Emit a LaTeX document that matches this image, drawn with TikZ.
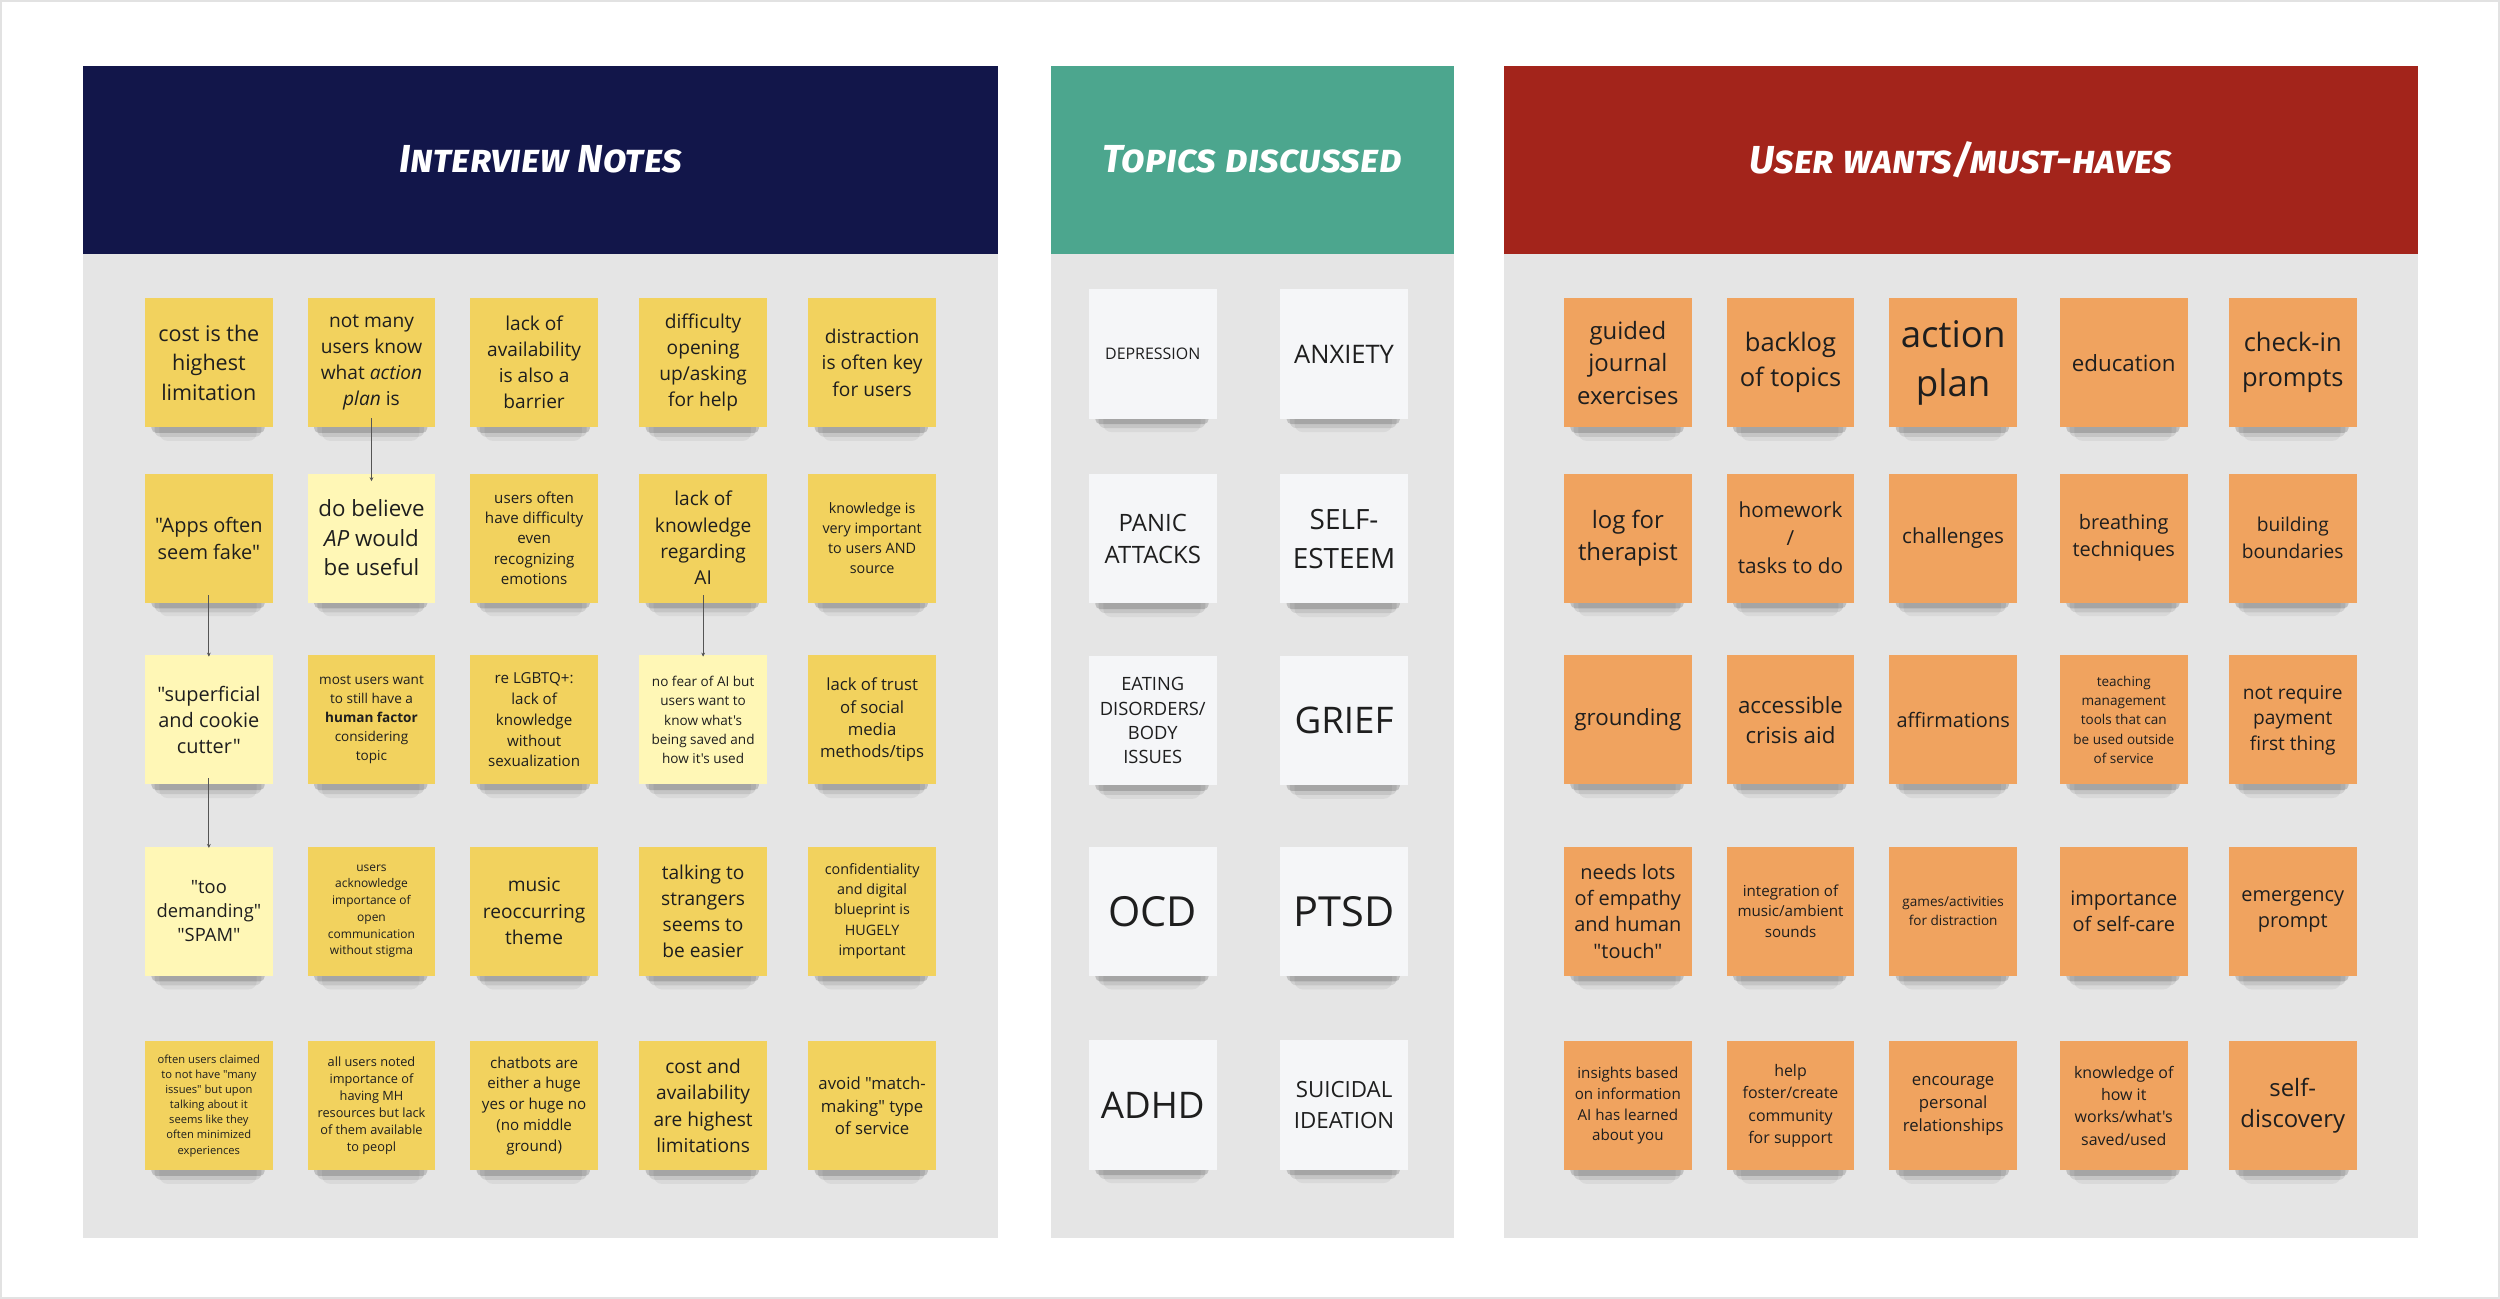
\documentclass[tikz,border=0pt]{standalone}
\usepackage{fontspec}
\setmainfont{Open Sans}[Ligatures=TeXOff]
\newfontfamily\hdrfont{Fira Sans}[Letters=SmallCaps]
\usetikzlibrary{arrows.meta}
\definecolor{navy}{HTML}{12164A}
\definecolor{teal}{HTML}{4CA68E}
\definecolor{brick}{HTML}{A3241B}
\definecolor{panelgray}{HTML}{E5E5E5}
\definecolor{frame}{HTML}{E2E2E2}
\definecolor{noteY}{HTML}{F2D25E}
\definecolor{noteLY}{HTML}{FFF7B6}
\definecolor{noteO}{HTML}{F0A35F}
\definecolor{noteW}{HTML}{F5F6F8}
\definecolor{notetext}{HTML}{1E1E1E}
\definecolor{linkgray}{HTML}{555555}
\newcommand\ft[2]{\fontsize{#1}{#2}\selectfont}
\tikzset{
  sticky/.style={minimum width=80pt, minimum height=81pt, inner sep=1pt, align=center, text=notetext},
  yel/.style={sticky, fill=noteY},
  lyel/.style={sticky, fill=noteLY},
  ora/.style={sticky, fill=noteO},
  wht/.style={sticky, fill=noteW},
  shA/.style={fill=black, opacity=.16, rounded corners=3pt},
  shB/.style={fill=black, opacity=.09, rounded corners=4pt},
  shC/.style={fill=black, opacity=.05, rounded corners=5pt},
  link/.style={draw=linkgray, line width=.6pt, -{Stealth[length=2.5pt,width=2.4pt]}},
  header/.style={text=white, font=\hdrfont\bfseries\itshape\fontsize{24.5}{28}\selectfont}
}
% sticky note with its soft shadow: style, name, x, y, font size, line skip, text
\newcommand\sticky[7]{%
  \begin{scope}[shift={(#3,#4)}]
    \fill[shC] (-31,30) rectangle (30,49);
    \fill[shB] (-34,30) rectangle (33,46.5);
    \fill[shA] (-36,30) rectangle (35,44);
  \end{scope}
  \node[#1, font=\ft{#5}{#6}] (#2) at (#3,#4) {#7};}
\begin{document}
\begin{tikzpicture}[x=1pt,y=-1pt]
\useasboundingbox (0,0) rectangle (1568,814.7);
\fill[white] (0,0) rectangle (1568,814.7);
\draw[frame, line width=1.2pt] (0.8,0.8) rectangle (1567.2,813.9);
% panels
\fill[panelgray] (52,159) rectangle (626,776.5);
\fill[navy] (52,41.4) rectangle (626,159);
\fill[panelgray] (659,159) rectangle (912,776.5);
\fill[teal] (659,41.4) rectangle (912,159);
\fill[panelgray] (943,159) rectangle (1516.5,776.5);
\fill[brick] (943,41.4) rectangle (1516.5,159);
\node[header] (h1) at (339,100) {Interview Notes};
\node[header] (h2) at (785.5,100) {Topics discussed};
\node[header] (h3) at (1230,100) {User wants/must-haves};
% interview notes
\sticky{yel}{i11}{131}{227.5}{13.5}{18.5}{cost is the\\highest\\limitation}
\sticky{yel}{i12}{233}{227.5}{12}{16.3}{not many\\users know\\what \textit{action}\\\textit{plan} is}
\sticky{yel}{i13}{335}{227.5}{12}{16.3}{lack of\\availability\\is also a\\barrier}
\sticky{yel}{i14}{441}{227.5}{12}{16.3}{difficulty\\opening\\up/asking\\for help}
\sticky{yel}{i15}{547}{227.5}{12}{16.5}{distraction\\is often key\\for users}
\sticky{yel}{i21}{131}{337.5}{12.5}{17}{"Apps often\\seem fake"}
\sticky{lyel}{i22}{233}{337.5}{14}{18.5}{do believe\\\textit{AP} would\\be useful}
\sticky{yel}{i23}{335}{337.5}{9.5}{12.8}{users often\\have difficulty\\even\\recognizing\\emotions}
\sticky{yel}{i24}{441}{337.5}{12}{16.5}{lack of\\knowledge\\regarding\\AI}
\sticky{yel}{i25}{547}{337.5}{9}{12.5}{knowledge is\\very important\\to users AND\\source}
\sticky{lyel}{i31}{131}{451.5}{12.5}{16.5}{"superficial\\and cookie\\cutter"}
\sticky{yel}{i32}{233}{451.5}{8.5}{12}{most users want\\to still have a\\\textbf{human factor}\\considering\\topic}
\sticky{yel}{i33}{335}{451.5}{9.5}{13}{re LGBTQ+:\\lack of\\knowledge\\without\\sexualization}
\sticky{lyel}{i34}{441}{451.5}{8.5}{12}{no fear of AI but\\users want to\\know what's\\being saved and\\how it's used}
\sticky{yel}{i35}{547}{451.5}{10.5}{14}{lack of trust\\of social\\media\\methods/tips}
\sticky{lyel}{i41}{131}{571.5}{11.5}{15}{"too\\demanding"\\"SPAM"}
\sticky{yel}{i42}{233}{571.5}{7.5}{10.5}{users\\acknowledge\\importance of\\open\\communication\\without stigma}
\sticky{yel}{i43}{335}{571.5}{12}{16.5}{music\\reoccurring\\theme}
\sticky{yel}{i44}{441}{571.5}{12}{16.3}{talking to\\strangers\\seems to\\be easier}
\sticky{yel}{i45}{547}{571.5}{9}{12.7}{confidentiality\\and digital\\blueprint is\\HUGELY\\important}
\sticky{yel}{i51}{131}{693.5}{7}{9.5}{often users claimed\\to not have "many\\issues" but upon\\talking about it\\seems like they\\often minimized\\experiences}
\sticky{yel}{i52}{233}{693.5}{8}{10.7}{all users noted\\importance of\\having MH\\resources but lack\\of them available\\to peopl}
\sticky{yel}{i53}{335}{693.5}{9.5}{13}{chatbots are\\either a huge\\yes or huge no\\(no middle\\ground)}
\sticky{yel}{i54}{441}{693.5}{12}{16.5}{cost and\\availability\\are highest\\limitations}
\sticky{yel}{i55}{547}{693.5}{10.5}{14}{avoid "match-\\making" type\\of service}
% topics
\sticky{wht}{t11}{723}{222}{10}{13}{DEPRESSION}
\sticky{wht}{t12}{843}{222}{16}{20}{ANXIETY}
\sticky{wht}{t21}{723}{338}{15}{20}{PANIC\\ATTACKS}
\sticky{wht}{t22}{843}{338}{17.5}{24}{SELF-\\ESTEEM}
\sticky{wht}{t31}{723}{452}{11.5}{15.3}{EATING\\DISORDERS/\\BODY\\ISSUES}
\sticky{wht}{t32}{843}{452}{23}{28}{GRIEF}
\sticky{wht}{t41}{723}{571.5}{26}{30}{OCD}
\sticky{wht}{t42}{843}{571.5}{26}{30}{PTSD}
\sticky{wht}{t51}{723}{693}{23}{28}{ADHD}
\sticky{wht}{t52}{843}{693}{14}{19}{SUICIDAL\\IDEATION}
% user wants
\sticky{ora}{u11}{1021}{227.5}{15}{20.5}{guided\\journal\\exercises}
\sticky{ora}{u12}{1123}{227.5}{16}{22}{backlog\\of topics}
\sticky{ora}{u13}{1225}{227.5}{23}{31}{action\\plan}
\sticky{ora}{u14}{1332}{227.5}{14}{18}{education}
\sticky{ora}{u15}{1438}{227.5}{16}{22}{check-in\\prompts}
\sticky{ora}{u21}{1021}{337.5}{15}{20}{log for\\therapist}
\sticky{ora}{u22}{1123}{337.5}{13}{17.5}{homework\\/\\tasks to do}
\sticky{ora}{u23}{1225}{337.5}{13}{17}{challenges}
\sticky{ora}{u24}{1332}{337.5}{12.5}{17}{breathing\\techniques}
\sticky{ora}{u25}{1438}{337.5}{12}{17}{building\\boundaries}
\sticky{ora}{u31}{1021}{451.5}{14}{18}{grounding}
\sticky{ora}{u32}{1123}{451.5}{14}{19}{accessible\\crisis aid}
\sticky{ora}{u33}{1225}{451.5}{12.5}{16}{affirmations}
\sticky{ora}{u34}{1332}{451.5}{8.5}{12}{teaching\\management\\tools that can\\be used outside\\of service}
\sticky{ora}{u35}{1438}{451.5}{12}{16}{not require\\payment\\first thing}
\sticky{ora}{u41}{1021}{571.5}{12.5}{16.5}{needs lots\\of empathy\\and human\\"touch"}
\sticky{ora}{u42}{1123}{571.5}{9.5}{13}{integration of\\music/ambient\\sounds}
\sticky{ora}{u43}{1225}{571.5}{8.5}{12}{games/activities\\for distraction}
\sticky{ora}{u44}{1332}{571.5}{12.5}{16.5}{importance\\of self-care}
\sticky{ora}{u45}{1438}{571.5}{12.5}{16.5}{emergency\\prompt}
\sticky{ora}{u51}{1021}{693.5}{9.5}{13}{insights based\\on information\\AI has learned\\about you}
\sticky{ora}{u52}{1123}{693.5}{10}{14}{help\\foster/create\\community\\for support}
\sticky{ora}{u53}{1225}{693.5}{10.5}{14.5}{encourage\\personal\\relationships}
\sticky{ora}{u54}{1332}{693.5}{10}{14}{knowledge of\\how it\\works/what's\\saved/used}
\sticky{ora}{u55}{1438}{693.5}{15}{20}{self-\\discovery}
% connectors
\draw[link] ([yshift=6pt]i12.south) -- ([yshift=-5pt]i22.north);
\draw[link] ([yshift=5pt]i21.south) -- ([yshift=-1pt]i31.north);
\draw[link] ([yshift=4pt]i31.south) -- ([yshift=-1pt]i41.north);
\draw[link] ([yshift=5pt]i24.south) -- ([yshift=-1pt]i34.north);
\end{tikzpicture}
\end{document}
